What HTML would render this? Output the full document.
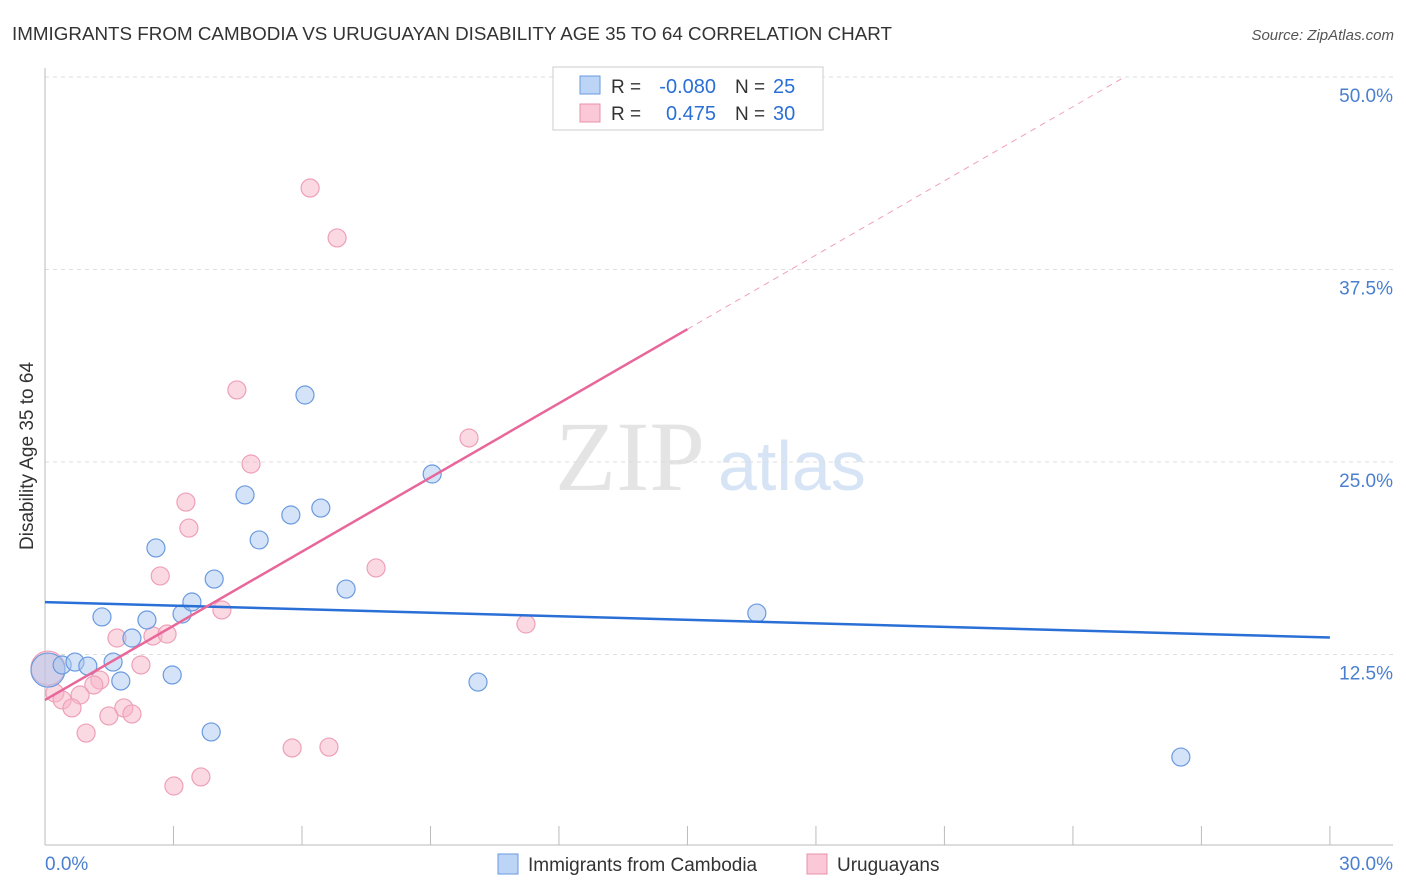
<!DOCTYPE html>
<html><head><meta charset="utf-8"><style>
body{margin:0;background:#fff;font-family:"Liberation Sans",sans-serif;}
#wrap{position:relative;width:1406px;height:892px;overflow:hidden}
</style></head><body>
<div id="wrap">
<svg id="svg" width="1406" height="892" xmlns="http://www.w3.org/2000/svg">
<text x="12" y="40" font-size="18.8" fill="#333" textLength="880">IMMIGRANTS FROM CAMBODIA VS URUGUAYAN DISABILITY AGE 35 TO 64 CORRELATION CHART</text>
<text x="1394" y="40" font-size="15" fill="#555" font-style="italic" text-anchor="end">Source: ZipAtlas.com</text>
<text x="555" y="490" font-size="100" fill="#e4e4e4" font-family="Liberation Serif,serif">ZIP</text>
<text x="718" y="490" font-size="70" fill="#d6e4f5">atlas</text>
<text transform="translate(33,456) rotate(-90)" font-size="19" fill="#333" text-anchor="middle">Disability Age 35 to 64</text>
<g id="grid"></g><g id="marks"></g>
<g>
<rect x="553" y="67" width="270" height="63" fill="#fff" stroke="#ccc"/>
<rect x="580" y="76" width="20" height="18" fill="#bcd4f5" stroke="#6a9ae0"/>
<rect x="580" y="104" width="20" height="18" fill="#fac8d6" stroke="#e890aa"/>
<text x="611" y="93" font-size="19" fill="#333">R =</text>
<text x="716" y="93" font-size="20" fill="#2a6fd6" text-anchor="end">-0.080</text>
<text x="735" y="93" font-size="19" fill="#333">N =</text>
<text x="773" y="93" font-size="20" fill="#2a6fd6">25</text>
<text x="611" y="120" font-size="19" fill="#333">R =</text>
<text x="716" y="120" font-size="20" fill="#2a6fd6" text-anchor="end">0.475</text>
<text x="735" y="120" font-size="19" fill="#333">N =</text>
<text x="773" y="120" font-size="20" fill="#2a6fd6">30</text>
</g>
<g>
<rect x="498" y="854" width="20" height="20" fill="#bcd4f5" stroke="#6a9ae0"/>
<text x="528" y="871" font-size="19" fill="#333">Immigrants from Cambodia</text>
<rect x="807" y="854" width="20" height="20" fill="#fac8d6" stroke="#e890aa"/>
<text x="837" y="871" font-size="19" fill="#333">Uruguayans</text>
</g>
</svg></div>
<script>
const yTicks=[12.5,25,37.5,50];
const yTickLabels=["12.5%","25.0%","37.5%","50.0%"];
const blueX=[0.07,0.40,0.70,1.00,1.33,1.59,1.77,2.03,2.38,2.59,2.97,3.20,3.43,3.88,3.95,4.67,5.00,5.74,6.07,6.44,7.03,9.04,10.11,16.62,26.52];
const blueY=[11.49,11.82,12.01,11.75,14.94,12.01,10.78,13.57,14.74,19.42,11.17,15.13,15.91,7.47,17.40,22.86,19.94,21.56,29.35,22.01,16.75,24.22,10.71,15.19,5.84];
const pinkX=[6.19,6.82,4.48,9.90,4.81,3.29,3.36,2.69,7.73,4.13,11.23,1.68,2.52,2.85,2.24,1.28,1.14,0.82,0.23,0.40,0.63,1.84,2.03,1.49,0.96,5.77,6.63,3.64,3.01,0.07];
const pinkY=[42.79,39.55,29.68,26.56,24.87,22.40,20.71,17.60,18.12,15.39,14.48,13.57,13.70,13.83,11.82,10.84,10.52,9.87,10.00,9.55,9.03,9.03,8.64,8.51,7.40,6.43,6.49,4.55,3.96,11.62];
const blueTrend=[15.9,13.6];
const pinkTrend=[9.55,1.605];
const NS="http://www.w3.org/2000/svg";
const X=v=>45+v*42.83, Y=v=>847-v*15.4;
function mk(t,a,p){const e=document.createElementNS(NS,t);for(const k in a)e.setAttribute(k,a[k]);p.appendChild(e);return e;}
const g=document.getElementById('grid'),m=document.getElementById('marks');
yTicks.forEach((t,i)=>{
 const l=mk('line',{x1:45,x2:1393,y1:Y(t),y2:Y(t),stroke:'#ddd','stroke-dasharray':'4,4'},g);
 
 const tx=mk('text',{x:1393,y:Y(t)+25,'font-size':19,fill:'#4a7fd0','text-anchor':'end'},g);tx.textContent=yTickLabels[i];
 
});
const ax=mk('line',{x1:45,x2:45,y1:68,y2:845,stroke:'#bbb'},g);

const bx=mk('line',{x1:45,x2:1393,y1:845,y2:845,stroke:'#bbb'},g);

for(let i=0;i<=10;i++){const t=mk('line',{x1:X(i*3),x2:X(i*3),y1:826,y2:845,stroke:'#bbb'},g);
 }
const x0=mk('text',{x:45,y:870,'font-size':19,fill:'#4a7fd0'},g);x0.textContent='0.0%';

const x1=mk('text',{x:1393,y:870,'font-size':19,fill:'#4a7fd0','text-anchor':'end'},g);x1.textContent='30.0%';

pinkX.forEach((v,i)=>{const c=mk('circle',{cx:X(v),cy:Y(pinkY[i]),r:i==29?17:9,fill:'rgba(248,180,200,0.5)',stroke:'#eea0b8','stroke-width':1.2},m);
 });
blueX.forEach((v,i)=>{const c=mk('circle',{cx:X(v),cy:Y(blueY[i]),r:i==0?17:9,fill:'rgba(170,200,240,0.5)',stroke:'#6a9ae0','stroke-width':1.2},m);
 });
const bl=mk('line',{x1:X(0),y1:Y(blueTrend[0]),x2:X(30),y2:Y(blueTrend[1]),stroke:'#2a6fd6','stroke-width':2.5},m);

const pe=(50-pinkTrend[0])/pinkTrend[1];
const pl=mk('line',{x1:X(0),y1:Y(pinkTrend[0]),x2:X(15),y2:Y(pinkTrend[0]+15*pinkTrend[1]),stroke:'#e8679a','stroke-width':2.5},m);

const pd=mk('line',{x1:X(15),y1:Y(pinkTrend[0]+15*pinkTrend[1]),x2:X(pe),y2:Y(50),stroke:'#f0a0bc','stroke-width':1,'stroke-dasharray':'6,5'},m);

</script>
</body></html>
